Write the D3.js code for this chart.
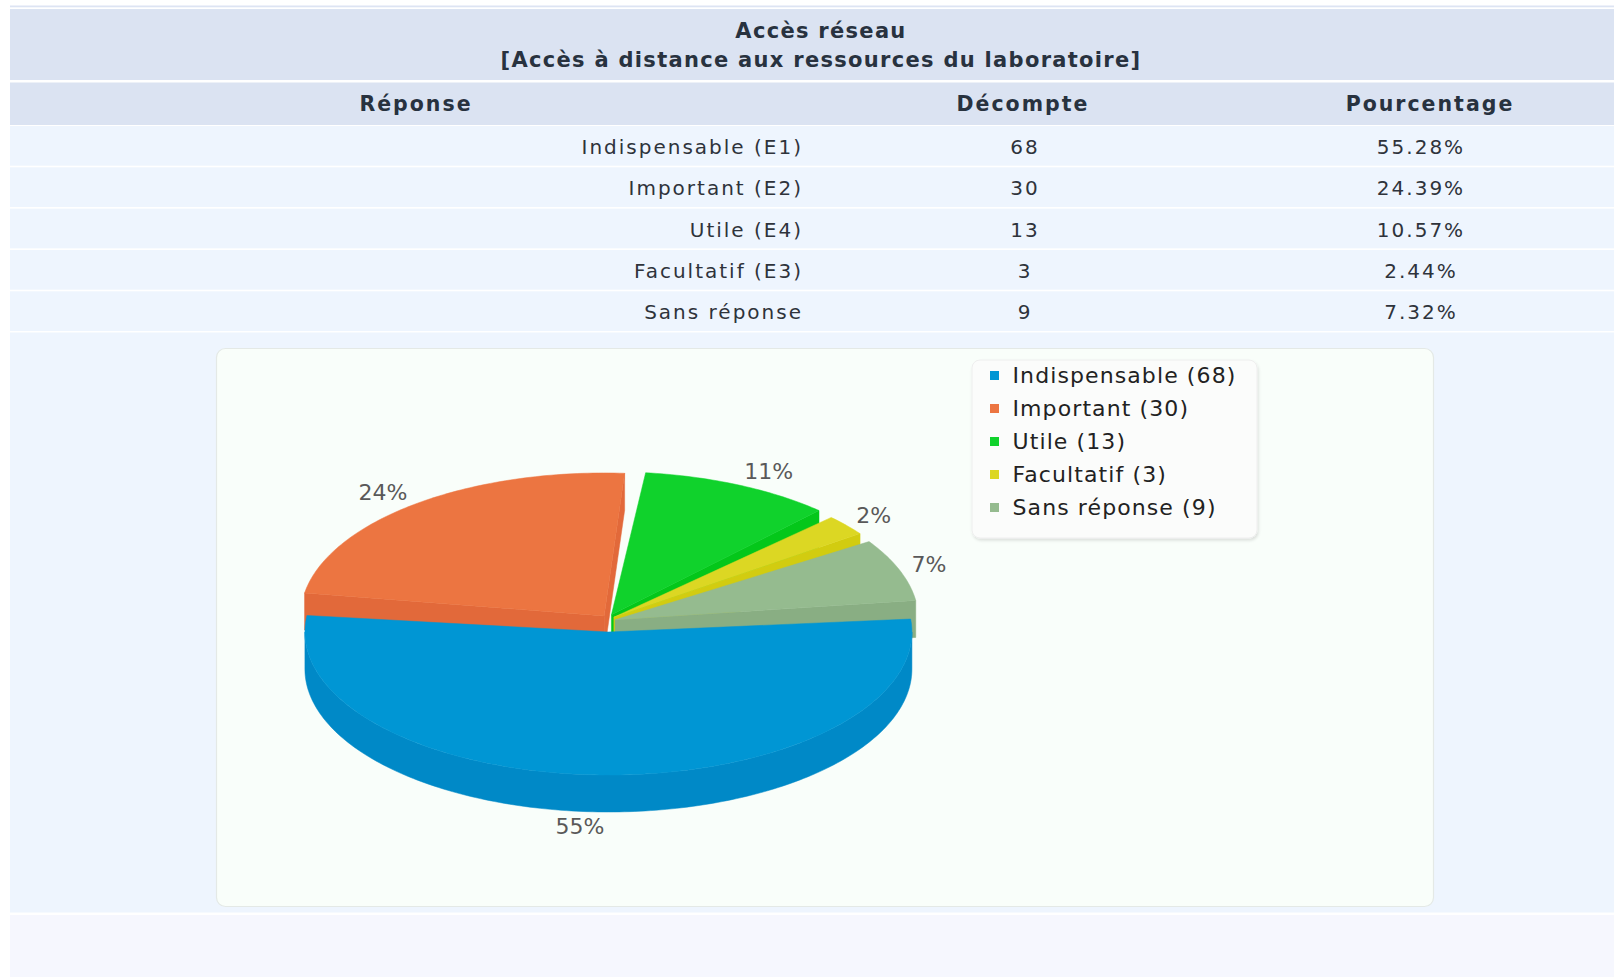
<!DOCTYPE html>
<html>
<head>
<meta charset="utf-8">
<script src="https://cdn.jsdelivr.net/npm/d3@7"></script>
<style>
  html, body { margin: 0; padding: 0; background: #fff; }
  svg { display: block; font-family: "DejaVu Sans", Verdana, sans-serif; }
</style>
</head>
<body>
<script>
let titleLines = ["Accès réseau", "[Accès à distance aux ressources du laboratoire]"];
let columns = ["Réponse", "Décompte", "Pourcentage"];
let responses = ["Indispensable (E1)", "Important (E2)", "Utile (E4)", "Facultatif (E3)", "Sans réponse"];
let legendNames = ["Indispensable", "Important", "Utile", "Facultatif", "Sans réponse"];
let counts = [68, 30, 13, 3, 9];
let topColors = ["#0096d4", "#ec7541", "#10d22c", "#dcd723", "#95bb8f"];
let sideColors = ["#0089c7", "#e2693a", "#04c71a", "#d2cc10", "#89ae83"];

let W = 1614, H = 977;
let svg = d3.select("body").append("svg").attr("width", W).attr("height", H);

let total = d3.sum(counts);
let fmtPct = d3.format(".2f");

// ---- table background bands
svg.append("rect").attr("x", 10).attr("y", 5.5).attr("width", W).attr("height", 1.8).attr("fill", "#dde4f3");
svg.append("rect").attr("x", 10).attr("y", 9).attr("width", W).attr("height", 71).attr("fill", "#dbe3f2");
svg.append("rect").attr("x", 10).attr("y", 82.5).attr("width", W).attr("height", 42.5).attr("fill", "#dbe3f2");

let rowY = d3.scaleBand().domain(d3.range(responses.length)).range([126, 331]).paddingInner(0.04);
svg.append("g").selectAll("rect").data(responses).join("rect")
  .attr("x", 10).attr("y", (d, i) => rowY(i))
  .attr("width", W).attr("height", rowY.bandwidth())
  .attr("fill", "#eef5fe");

svg.append("rect").attr("x", 10).attr("y", 332.5).attr("width", W).attr("height", 580).attr("fill", "#eef5fe");
svg.append("rect").attr("x", 10).attr("y", 915).attr("width", W).attr("height", 62).attr("fill", "#f6f7fe");

// ---- table text
svg.append("g").selectAll("text").data(titleLines).join("text")
  .attr("x", 821).attr("y", (d, i) => 31 + i * 29)
  .attr("text-anchor", "middle").attr("dominant-baseline", "central")
  .attr("font-weight", "bold").attr("font-size", 21).attr("letter-spacing", 1.3)
  .attr("fill", "#28323f")
  .text(d => d);

let colX = [416, 1023, 1430];
svg.append("g").selectAll("text").data(columns).join("text")
  .attr("x", (d, i) => colX[i]).attr("y", 104)
  .attr("text-anchor", "middle").attr("dominant-baseline", "central")
  .attr("font-weight", "bold").attr("font-size", 20.5).attr("letter-spacing", 2)
  .attr("fill", "#28323f")
  .text(d => d);

let rows = svg.append("g").attr("font-size", 20).attr("letter-spacing", 2).attr("fill", "#2e333b");
let rowMid = i => rowY(i) + rowY.bandwidth() / 2 + 1;
rows.selectAll(".lab").data(responses).join("text").attr("class", "lab")
  .attr("x", 803).attr("y", (d, i) => rowMid(i))
  .attr("text-anchor", "end").attr("dominant-baseline", "central")
  .text(d => d);
rows.selectAll(".cnt").data(counts).join("text").attr("class", "cnt")
  .attr("x", 1025).attr("y", (d, i) => rowMid(i))
  .attr("text-anchor", "middle").attr("dominant-baseline", "central")
  .text(d => d);
rows.selectAll(".pct").data(counts).join("text").attr("class", "pct")
  .attr("x", 1421).attr("y", (d, i) => rowMid(i))
  .attr("text-anchor", "middle").attr("dominant-baseline", "central")
  .text(d => fmtPct(d / total * 100) + "%");

// ---- chart panel
let defs = svg.append("defs");
let shadow = defs.append("filter").attr("id", "shadow").attr("x", "-10%").attr("y", "-10%").attr("width", "130%").attr("height", "130%");
shadow.append("feDropShadow").attr("dx", 1).attr("dy", 2).attr("stdDeviation", 1.5).attr("flood-color", "#000").attr("flood-opacity", 0.12);

svg.append("rect").attr("x", 216.5).attr("y", 348.5).attr("width", 1217).attr("height", 558)
  .attr("rx", 9).attr("fill", "#f9fefa").attr("stroke", "#e4e9e6").attr("stroke-width", 1.2);

// ---- 3D pie
let cx = 608.5, cy = 623, rx = 303.5, ry = 143, depth = 37;
let explodeX = 7, explodeY = 9; // slices pushed out a little along their middle angle
let rad = Math.PI / 180;
let pie = d3.pie().sort(null)
  .startAngle(83.5 * rad).endAngle(83.5 * rad + 2 * Math.PI)
  .padAngle(2.6 * rad);

let slices = pie(counts).map((d, i) => {
  let mid = (d.startAngle + d.endAngle) / 2;
  return {
    i: i,
    a0: d.startAngle + d.padAngle / 2,
    a1: d.endAngle - d.padAngle / 2,
    mid: mid,
    ox: explodeX * Math.sin(mid),
    oy: -explodeY * Math.cos(mid)
  };
});

let pt = (s, t, z) => [cx + s.ox + rx * Math.sin(t), cy + s.oy - ry * Math.cos(t) + (z || 0)];
let arcPts = (s, t0, t1, z) => {
  let n = Math.max(2, Math.ceil(Math.abs(t1 - t0) / rad));
  return d3.range(n + 1).map(k => pt(s, t0 + (t1 - t0) * k / n, z));
};
let line = d3.line();

// side walls, only the ones facing the viewer
let walls = [];
slices.forEach(s => {
  [[s.a0, s.a0 - Math.PI / 2], [s.a1, s.a1 + Math.PI / 2]].forEach(([t, nrm]) => {
    if (Math.cos(nrm) < 0) {
      let c = [cx + s.ox, cy + s.oy], r = pt(s, t);
      walls.push({ s: s, pts: [c, r, [r[0], r[1] + depth], [c[0], c[1] + depth]], z: (c[1] + r[1]) / 2 });
    }
  });
  [0, 1].forEach(k => {
    let f0 = Math.PI / 2 + 2 * Math.PI * k, f1 = 3 * Math.PI / 2 + 2 * Math.PI * k;
    let b0 = Math.max(s.a0, f0), b1 = Math.min(s.a1, f1);
    if (b1 > b0) {
      let pts = arcPts(s, b0, b1, 0).concat(arcPts(s, b1, b0, depth));
      walls.push({ s: s, pts: pts, z: d3.mean(pts, p => p[1]) + 40 });
    }
  });
});
walls.sort((a, b) => a.z - b.z);

let pieG = svg.append("g");
pieG.selectAll(".wall").data(walls).join("path").attr("class", "wall")
  .attr("d", d => line(d.pts) + "Z")
  .attr("fill", d => sideColors[d.s.i])
  .attr("stroke", d => sideColors[d.s.i]).attr("stroke-width", 0.5);

pieG.selectAll(".top").data(slices).join("path").attr("class", "top")
  .attr("d", s => line([[cx + s.ox, cy + s.oy]].concat(arcPts(s, s.a0, s.a1, 0))) + "Z")
  .attr("fill", s => topColors[s.i])
  .attr("stroke", s => topColors[s.i]).attr("stroke-width", 0.5);

// percentage labels
pieG.selectAll(".plab").data(slices).join("text").attr("class", "plab")
  .attr("x", s => cx + (rx + 20) * Math.sin(s.mid))
  .attr("y", s => cy - (ry + 24) * Math.cos(s.mid) + (Math.cos(s.mid) < 0 ? depth : 0))
  .attr("text-anchor", s => Math.sin(s.mid) >= 0 ? "start" : "end")
  .attr("dominant-baseline", "central")
  .attr("font-size", 22).attr("fill", "#595959")
  .text(s => Math.round(counts[s.i] / total * 100) + "%");

// ---- legend
let legend = svg.append("g");
legend.append("rect").attr("x", 972).attr("y", 360).attr("width", 285).attr("height", 178)
  .attr("rx", 8).attr("fill", "#fbfcfb").attr("stroke", "#eeeeee").attr("filter", "url(#shadow)");
let legY = d3.scalePoint().domain(d3.range(legendNames.length)).range([375.5, 507.5]);
legend.selectAll(".sw").data(legendNames).join("rect").attr("class", "sw")
  .attr("x", 990).attr("y", (d, i) => legY(i) - 4.5).attr("width", 9).attr("height", 9)
  .attr("fill", (d, i) => topColors[i]);
legend.selectAll(".lt").data(legendNames).join("text").attr("class", "lt")
  .attr("x", 1012.5).attr("y", (d, i) => legY(i))
  .attr("dominant-baseline", "central")
  .attr("font-size", 22).attr("letter-spacing", 1.1).attr("fill", "#222")
  .text((d, i) => d + " (" + counts[i] + ")");
</script>
</body>
</html>
